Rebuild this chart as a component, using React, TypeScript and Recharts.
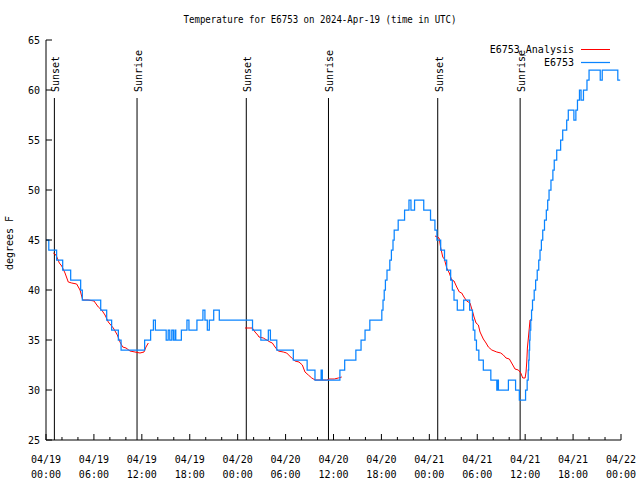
import React from 'react';
import { LineChart, Line, XAxis, YAxis, ReferenceLine } from 'recharts';

const FONT = '"DejaVu Sans Mono", "Liberation Mono", monospace';

const hourTicks = [0,2,4,6,8,10,12,14,16,18,20,22,24,26,28,30,32,34,36,38,40,42,44,46,48,50,52,54,56,58,60,62,64,66,68,70,72];
const xLabelDates = ['04/19','04/19','04/19','04/19','04/20','04/20','04/20','04/20','04/21','04/21','04/21','04/21','04/22'];
const xLabelTimes = ['00:00','06:00','12:00','18:00','00:00','06:00','12:00','18:00','00:00','06:00','12:00','18:00','00:00'];
const yTicks = [25,30,35,40,45,50,55,60,65];

const sunEvents = ['Sunset','Sunrise','Sunset','Sunrise','Sunset','Sunrise'];
const sunHours = [1.05, 11.4, 25.08, 35.37, 49.05, 59.37];
const sunLineTop = 59.2;

const blueHours = [0.0,0.35,1.33,2.09,3.09,4.34,4.55,6.85,7.6,8.22,9.06,9.4,12.35,13.1,13.45,13.7,15.05,15.3,15.5,15.75,15.95,16.15,16.25,16.95,17.65,17.9,18.9,19.65,19.9,20.2,20.45,21.0,21.7,25.86,26.9,27.84,28.1,28.9,30.97,32.7,33.68,34.45,34.6,36.8,37.4,38.8,39.45,39.95,40.55,42.05,42.2,42.35,42.5,42.7,43.05,43.25,43.45,43.6,44.1,44.9,45.45,45.7,46.15,47.3,48.15,48.7,48.95,49.42,49.9,50.17,50.67,50.88,51.09,51.5,52.3,53.05,53.4,53.5,53.7,53.9,54.2,54.76,55.7,56.45,56.55,56.65,57.9,58.8,59.27,60.05,60.25,60.38,60.44,60.5,60.56,60.61,60.7,60.8,60.92,61.13,61.31,61.51,61.7,61.86,62.03,62.2,62.42,62.65,62.82,62.99,63.23,63.47,63.64,63.95,64.44,64.7,65.2,65.4,66.1,66.35,66.55,66.8,67.0,67.3,67.74,68.0,69.4,69.65,71.6,71.9];
const blueTemps = [45,44,43,42,41,40,39,38,37,36,35,34,35,36,37,36,35,36,35,36,35,36,35,36,37,36,37,38,37,36,37,38,37,36,35,36,35,34,33,32,31,32,31,32,33,34,35,36,37,38,39,40,41,42,43,44,45,46,47,48,49,48,49,48,47,46,45,44,43,42,41,40,39,38,39,38,37,36,35,34,33,32,31,30,31,30,31,30,29,30,31,32,33,34,35,36,37,38,39,40,41,42,43,44,45,46,47,48,49,50,51,52,53,54,55,56,57,58,57,58,59,60,59,60,61,62,61,62,61,61];

const redHours = [0.91,1.25,1.67,1.97,2.38,2.79,3.22,3.84,4.26,4.6,5.26,6.01,6.55,6.97,7.39,7.8,8.43,8.93,9.27,9.6,10.02,10.52,11.14,11.77,12.27,12.52,12.81,
  18.0,
  24.92,25.84,26.17,26.51,26.67,27.21,28.05,28.34,28.68,29.08,29.71,30.14,30.76,31.18,31.68,32.1,32.43,32.85,33.28,33.7,34.54,35.15,35.44,36.1,36.6,37.03,
  43.0,
  48.71,49.0,49.22,49.43,49.68,49.88,50.18,50.5,50.8,51.09,51.43,51.76,52.05,52.34,52.68,53.09,53.43,53.6,53.85,54.14,54.35,54.76,55.1,55.39,55.82,56.44,56.94,57.27,57.6,58.02,58.45,58.73,59.15,59.45,59.7,59.99,60.11,60.2,60.28,60.4,60.61,60.82];
const redTemps: (number | null)[] = [43.7,43.5,42.7,42.4,41.7,40.8,40.7,40.6,40.0,39.0,39.0,38.9,38.3,38.0,37.5,36.8,36.2,35.5,34.8,34.3,34.2,33.9,33.8,33.7,33.8,34.3,34.7,
  null,
  36.2,36.2,35.8,35.5,35.3,35.2,34.8,34.7,34.3,33.9,33.8,33.7,33.2,32.9,32.8,32.5,31.8,31.5,31.2,31.0,31.0,31.0,31.1,31.1,31.2,31.3,
  null,
  45.4,45.3,45.2,44.2,43.3,43.1,42.2,41.7,41.0,40.9,40.3,39.8,39.7,39.3,38.9,38.7,37.8,37.3,36.7,36.5,35.8,35.1,34.7,34.3,34.0,33.8,33.7,33.5,33.2,33.1,32.5,32.1,32.0,31.7,31.2,31.2,31.8,32.8,34.2,35.2,37.0,37.0];

const blueData = blueHours.map((h, i) => ({ h, t: blueTemps[i] }));
const redData = redHours.map((h, i) => ({ h, t: redTemps[i] }));

const textStyle = { fontFamily: FONT, fontSize: 10, fill: '#000' } as const;

const BottomTick = (props: any) => {
  const { x, y, payload } = props;
  const h = payload.value as number;
  const major = h % 6 === 0;
  const idx = h / 6;
  return (
    <g>
      <line x1={x} y1={y} x2={x} y2={y - (major ? 6 : 3)} stroke="#000" strokeWidth={1} />
      {major && <text x={x} y={y + 23} textAnchor="middle" {...textStyle}>{xLabelDates[idx]}</text>}
      {major && <text x={x} y={y + 38} textAnchor="middle" {...textStyle}>{xLabelTimes[idx]}</text>}
    </g>
  );
};

const TopTick = (props: any) => {
  const { x, y, payload } = props;
  const major = (payload.value as number) % 6 === 0;
  return <line x1={x} y1={y} x2={x} y2={y + (major ? 6 : 3)} stroke="#000" strokeWidth={1} />;
};

const LeftTick = (props: any) => {
  const { x, y, payload } = props;
  return (
    <g>
      <line x1={x} y1={y} x2={x + 6} y2={y} stroke="#000" strokeWidth={1} />
      <text x={x - 6} y={y + 3.5} textAnchor="end" {...textStyle}>{payload.value}</text>
    </g>
  );
};

const RightTick = (props: any) => {
  const { x, y } = props;
  return <line x1={x} y1={y} x2={x - 6} y2={y} stroke="#000" strokeWidth={1} />;
};

const makeSunLabel = (name: string) => (p: any) => {
  const vb = p.viewBox || { x: 0, y: 0 };
  const x = vb.x + 5;
  const y = vb.y - 6;
  return (
    <text x={x} y={y} transform={`rotate(-90 ${x} ${y})`} textAnchor="start" {...textStyle}>{name}</text>
  );
};

export default function App() {
  return (
    <div style={{ position: 'absolute', left: 0, top: 0, width: 640, height: 480, background: '#fff' }}>
      <LineChart width={640} height={480} margin={{ top: 40, right: 19, bottom: 0, left: 0 }}>
        <XAxis xAxisId={0} dataKey="h" type="number" domain={[0, 72]} ticks={hourTicks} interval={0}
          allowDataOverflow height={40} tickSize={0} tickMargin={0} tickLine={false}
          axisLine={{ stroke: '#000' }} tick={<BottomTick />} />
        <XAxis xAxisId="top" orientation="top" dataKey="h" type="number" domain={[0, 72]} ticks={hourTicks} interval={0}
          allowDataOverflow height={0} tickSize={0} tickMargin={0} tickLine={false}
          axisLine={{ stroke: '#000' }} tick={<TopTick />} />
        <YAxis yAxisId={0} type="number" domain={[25, 65]} ticks={yTicks} interval={0} allowDataOverflow
          width={46} tickSize={0} tickMargin={0} tickLine={false} axisLine={{ stroke: '#000' }} tick={<LeftTick />} />
        <YAxis yAxisId="right" orientation="right" type="number" domain={[25, 65]} ticks={yTicks} interval={0} allowDataOverflow
          width={0} tickSize={0} tickMargin={0} tickLine={false} axisLine={{ stroke: '#000' }} tick={<RightTick />} />
        {sunHours.map((h, i) => (
          <ReferenceLine key={i} xAxisId={0} yAxisId={0}
            segment={[{ x: h, y: sunLineTop }, { x: h, y: 25 }]}
            stroke="#000" strokeWidth={1} ifOverflow="visible"
            label={makeSunLabel(sunEvents[i])} />
        ))}
        <Line xAxisId={0} yAxisId={0} data={redData} dataKey="t" type="linear" stroke="#ff0000" strokeWidth={1}
          dot={false} activeDot={false} connectNulls={false} isAnimationActive={false} />
        <Line xAxisId={0} yAxisId={0} data={blueData} dataKey="t" type="stepAfter" stroke="#0a84ff" strokeWidth={1.25}
          dot={false} activeDot={false} isAnimationActive={false} />
      </LineChart>
      <svg width={640} height={480} style={{ position: 'absolute', left: 0, top: 0, pointerEvents: 'none' }}>
        <text x={320} y={23} textAnchor="middle" {...textStyle} textLength={273} lengthAdjust="spacingAndGlyphs">Temperature for E6753 on 2024-Apr-19 (time in UTC)</text>
        <text x={13} y={243} textAnchor="middle" transform="rotate(-90 13 243)" {...textStyle}>degrees F</text>
        <text x={574} y={53} textAnchor="end" {...textStyle}>E6753_Analysis</text>
        <line x1={581} y1={49.5} x2={610} y2={49.5} stroke="#ff0000" strokeWidth={1} />
        <text x={574} y={66} textAnchor="end" {...textStyle}>E6753</text>
        <line x1={581} y1={62.5} x2={610} y2={62.5} stroke="#0a84ff" strokeWidth={1.25} />
      </svg>
    </div>
  );
}
